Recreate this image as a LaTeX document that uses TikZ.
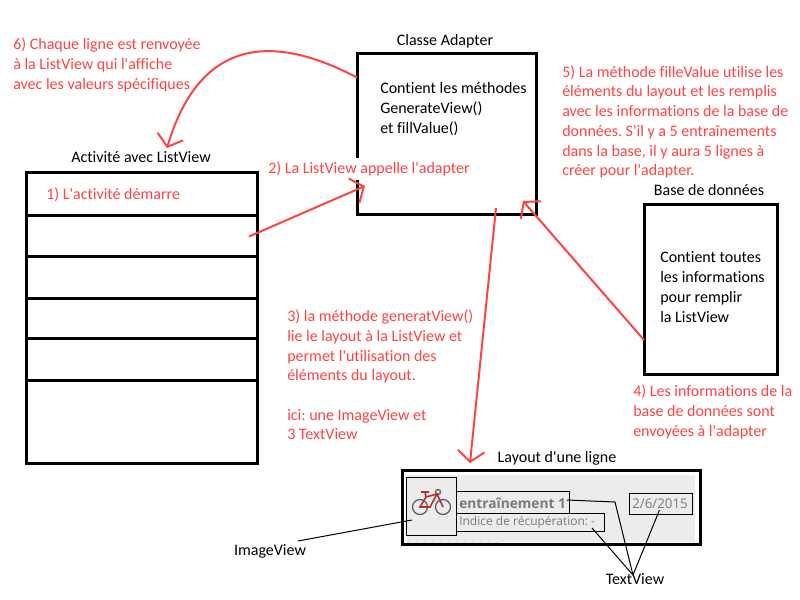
\documentclass[tikz,border=0pt]{standalone}
\usepackage{fontspec}
\setmainfont{Carlito}[Ligatures={TeXOff,CommonOff}]
\newfontfamily\rowfont{Open Sans}
\usetikzlibrary{arrows.meta}
\definecolor{notered}{HTML}{FF4343}
\definecolor{rowgray}{HTML}{ECECEC}
\definecolor{rowtext}{HTML}{7A7A7A}
\definecolor{bikered}{HTML}{B5302F}
\frenchspacing

\begin{document}
\begin{tikzpicture}[x=0.75pt, y=-0.75pt]
    % ==========================
    % Styles
    % ==========================
    \tikzset{
        bigbox/.style={draw=black, line width=2.25pt, inner sep=0pt, outer sep=0pt, anchor=north west}, % grands cadres
        thinbox/.style={draw=black, line width=0.75pt, inner sep=0pt, outer sep=0pt, anchor=north west}, % cadres fins
        note/.style={text=notered, anchor=west, align=left, inner sep=0pt, font=\fontsize{12}{14.8}\selectfont}, % textes rouges
        plain/.style={text=black, anchor=west, align=left, inner sep=0pt, font=\fontsize{12}{14.8}\selectfont}, % textes noirs
        title/.style={text=black, inner sep=0pt, font=\fontsize{12}{14.8}\selectfont}, % titres
        redarrow/.style={draw=notered, line width=1.5pt, -{Straight Barb[length=8pt, width=20pt, line width=1.5pt]}},
        pointer/.style={draw=black, line width=0.75pt}
    }
    \useasboundingbox (0,0) rectangle (800,600);

    % ==========================
    % 1. Activite avec ListView
    % ==========================
    \node[title] (activityTitle) at (141,157) {Activité avec ListView};
    \foreach \name/\top/\bot in {rowA/172/215, rowB/215/256, rowC/256/298, rowD/298/338, rowE/338/380, rowF/380/463} {
        \node[bigbox, minimum width=173.25pt, minimum height={(\bot-\top)*0.75pt}] (\name) at (26,\top) {};
    }
    \node[note] (noteStart) at (46,195) {1) L'activité démarre};

    % ==========================
    % 2. Classe Adapter
    % ==========================
    \node[title] (adapterTitle) at (445,41) {Classe Adapter};
    \node[bigbox, minimum width=134.25pt, minimum height=120.75pt] (adapter) at (357,53) {};
    \node[plain] (adapterText) at (380,109) {Contient les méthodes\\GenerateView()\\et fillValue()};
    \node[note, fill=white, inner ysep=3pt] (noteCall) at (268,169) {2) La ListView appelle l'adapter};

    % ==========================
    % 3. Base de donnees
    % ==========================
    \node[title] (baseTitle) at (709,190) {Base de données};
    \node[bigbox, minimum width=99.75pt, minimum height=127.5pt] (base) at (644,204) {};
    \node[plain] (baseText) at (660,287) {Contient toutes\\les informations\\pour remplir\\la ListView};

    % ==========================
    % 4. Layout d'une ligne
    % ==========================
    \node[title] (layoutTitle) at (557,458) {Layout d'une ligne};
    \node[bigbox, fill=white, minimum width=223.5pt, minimum height=55.5pt] (layout) at (402,470) {};
    \node[anchor=north west, fill=rowgray, inner sep=0pt, minimum width=216pt, minimum height=50pt] (rowBack) at (407,475) {};
    \draw[draw=teal!20, line width=0.75pt, dashed] (407,542) -- (500,542);

    % petit velo
    \node[thinbox, minimum width=37.5pt, minimum height=43.5pt] (imageBox) at (406,477) {};
    \draw[rowtext!80!black, line width=1pt] (420,507) circle (7.5) (443,507) circle (7.5) (438,492) circle (2.5);
    \draw[bikered, line width=1.2pt] (420,507) -- (426,497) -- (437,494) -- (430,507) -- cycle (426,497) -- (425,492) (421,492) -- (429,492) (437,494) -- (443,507);

    \node[thinbox, minimum width=84.75pt, minimum height=16.5pt] (nameBox) at (456,491) {};
    \node[thinbox, minimum width=111pt, minimum height=13.5pt] (scoreBox) at (456,513) {};
    \node[thinbox, minimum width=47.25pt, minimum height=15.75pt] (dateBox) at (629,493) {};
    \node[anchor=west, inner sep=0pt, text=rowtext, font=\rowfont\fontsize{10.3}{12}\selectfont\bfseries] (nameText) at (459,503) {entraînement 1};
    \node[anchor=west, inner sep=0pt, text=rowtext, font=\rowfont\fontsize{9}{10}\selectfont] (scoreText) at (459,522) {Indice de récupération: -};
    \node[anchor=west, inner sep=0pt, text=rowtext, font=\rowfont\fontsize{10}{11}\selectfont] (dateText) at (632,504) {2/6/2015};

    % ==========================
    % 5. Legendes
    % ==========================
    \node[title] (imageLabel) at (270,551) {ImageView};
    \node[title] (textLabel) at (635,579) {TextView};
    \coordinate (apex) at (633,575);
    \coordinate (imageFrom) at (298,541);
    \coordinate (nameBend) at (615,502);
    \draw[pointer] (imageFrom) -- ([xshift=4.5pt, yshift=-10.5pt]imageBox.west);
    \draw[pointer] ([xshift=-1.5pt, yshift=1.5pt]nameBox.east) -- (nameBend) -- (apex);
    \draw[pointer] ([xshift=-9pt, yshift=2.25pt]scoreBox.south east) -- (apex);
    \draw[pointer] ([xshift=-0.75pt, yshift=3pt]dateBox.south) -- (apex);

    % ==========================
    % 6. Notes en rouge
    % ==========================
    \node[note] (noteBack) at (13,65) {6) Chaque ligne est renvoyée\\à la ListView qui l'affiche\\avec les valeurs spécifiques};
    \node[note] (noteFill) at (562,122) {5) La méthode filleValue utilise les\\éléments du layout et les remplis\\avec les informations de la base de\\données. S'il y a 5 entraînements\\dans la base, il y aura 5 lignes à\\créer pour l'adapter.};
    \node[note] (noteLayout) at (287,375) {3) la méthode generatView()\\lie le layout à la ListView et\\permet l'utilisation des\\éléments du layout.\\\\ici: une ImageView et\\3 TextView};
    \node[note] (noteSend) at (633,412) {4) Les informations de la\\base de données sont\\envoyées à l'adapter};

    % ==========================
    % 7. Fleches
    % ==========================
    \coordinate (tipCall) at (365,186);
    \coordinate (tipLayout) at (470,463);
    \coordinate (tipSend) at (523,201);
    \coordinate (tipBack) at (167,148);
    \coordinate (fromLayout) at (496,208);
    \draw[redarrow] ([xshift=-6pt, yshift=-0.75pt]rowB.east) -- (tipCall);
    \draw[redarrow] (fromLayout) -- (tipLayout);
    \draw[redarrow] ([yshift=-38.25pt]base.west) -- (tipSend);
    \draw[redarrow] ([yshift=42pt]adapter.west) .. controls (295,45) and (205,20) .. (tipBack);
\end{tikzpicture}
\end{document}
